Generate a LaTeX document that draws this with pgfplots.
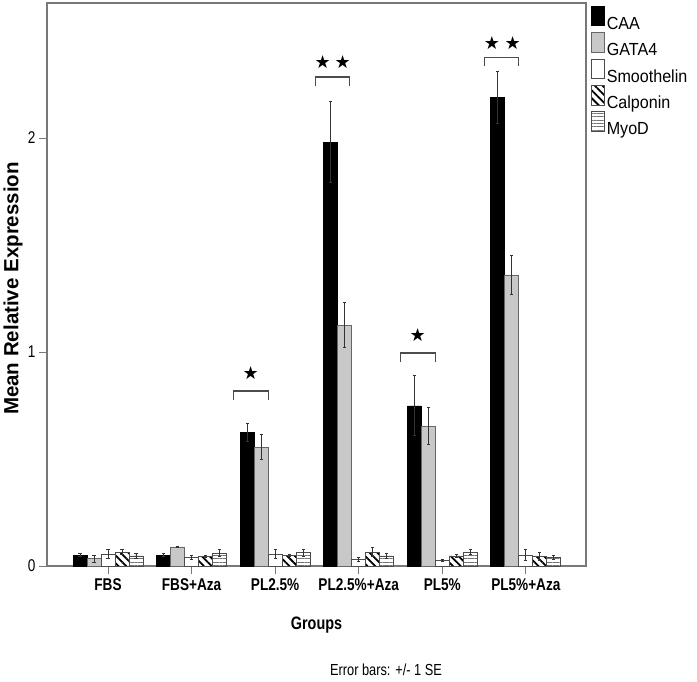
\documentclass[border=0pt]{standalone}
\usepackage{pgfplots}
\pgfplotsset{compat=1.18}
\usepackage{pgfplotstable}
\usepackage{fontspec}
\usetikzlibrary{patterns,patterns.meta}
\setmainfont{Liberation Sans}
\newfontfamily\narrow[FakeStretch=0.8]{Liberation Sans}
\newfontfamily\legfont[FakeStretch=0.92]{Liberation Sans}
\newfontfamily\starfont{DejaVu Sans}

\definecolor{gatagray}{RGB}{200,200,200}
\definecolor{framegray}{RGB}{120,120,120}

% x: group index, y: mean, e: SE
\pgfplotstableread{
x y e
0 0.051 0.006
1 0.051 0.006
2 0.626 0.042
3 1.980 0.190
4 0.748 0.140
5 2.190 0.120
}\caa
\pgfplotstableread{
x y e
0 0.034 0.016
1 0.089 0.004
2 0.556 0.058
3 1.125 0.105
4 0.654 0.085
5 1.360 0.090
}\gata
\pgfplotstableread{
x y e
0 0.055 0.020
1 0.039 0.010
2 0.055 0.020
3 0.031 0.008
4 0.026 0.006
5 0.051 0.025
}\smo
\pgfplotstableread{
x y e
0 0.065 0.012
1 0.045 0.006
2 0.050 0.006
3 0.065 0.020
4 0.047 0.006
5 0.044 0.020
}\cal
\pgfplotstableread{
x y e
0 0.047 0.012
1 0.059 0.016
2 0.062 0.016
3 0.047 0.012
4 0.065 0.012
5 0.039 0.008
}\myo

\begin{document}
\begin{tikzpicture}[x=1pt,y=1pt]
\useasboundingbox (-47pt,-115pt) rectangle (650pt,566pt);
\begin{axis}[
  at={(0pt,0pt)}, anchor=south west,
  scale only axis, width=539pt, height=563pt,
  xmin=-0.73, xmax=5.72, ymin=0, ymax=2.631,
  ybar, bar width=0.1675,
  legend image code/.code={\draw[#1] (0pt,-2pt) rectangle (12.5pt,17.5pt);},
  axis line style={framegray, line width=1.3pt},
  xtick={0,1,2,3,4,5},
  xticklabels={FBS,FBS+Aza,PL2.5\%,PL2.5\%+Aza,PL5\%,PL5\%+Aza},
  ytick={0,1,2},
  /pgf/number format/assume math mode=true,
  tick pos=left, tick align=outside,
  major tick length=8pt,
  tick style={framegray, line width=1pt},
  xticklabel style={font=\narrow\bfseries\fontsize{17}{20}\selectfont, yshift=-1pt},
  yticklabel style={font=\narrow\fontsize{17}{20}\selectfont},
  xlabel={Groups},
  ylabel={Mean Relative Expression},
  every axis x label/.style={at={(axis description cs:0.5,0)}, anchor=center, yshift=-59pt,
    font=\narrow\bfseries\fontsize{18}{20}\selectfont},
  every axis y label/.style={at={([xshift=-34pt,yshift=-4pt]axis description cs:0,0.5)}, anchor=center, rotate=90,
    font=\bfseries\fontsize{20.5}{22}\selectfont},
  legend style={at={(1,1)}, anchor=north west, xshift=5pt, yshift=-3pt, draw=none, fill=none,
    inner sep=0pt, outer sep=0pt, row sep=-1pt,
    font=\legfont\fontsize{17.5}{18}\selectfont, nodes={inner sep=2.5pt}},
  legend cell align=left,
  error bars/y dir=both, error bars/y explicit,
  error bars/error bar style={black!80, line width=0.8pt},
  error bars/error mark options={rotate=90, mark size=1.6pt, line width=1pt, black!80},
  clip=false,
]
\addplot[bar shift=-0.335, fill=black, draw=black, line width=0.8pt]
  table[x=x, y=y, y error=e] {\caa};
\addplot[bar shift=-0.1675, fill=gatagray, draw=black!60, line width=0.8pt]
  table[x=x, y=y, y error=e] {\gata};
\addplot[bar shift=0, fill=white, draw=black!70, line width=0.8pt]
  table[x=x, y=y, y error=e] {\smo};
\addplot[bar shift=0.1675, fill=white, draw=black!70, line width=0.8pt,
  postaction={pattern={Lines[angle=-45, distance=5.5pt, line width=1.8pt]}, pattern color=black}]
  table[x=x, y=y, y error=e] {\cal};
\addplot[bar shift=0.335, fill=white, draw=black!70, line width=0.8pt,
  postaction={pattern={Lines[angle=0, distance=3.4pt, line width=0.8pt]}, pattern color=black!55}]
  table[x=x, y=y, y error=e] {\myo};
\legend{CAA,GATA4,Smoothelin,Calponin,MyoD}

% significance brackets
\draw[black!70, line width=1.2pt] (axis cs:1.497,0.776) |- (axis cs:1.916,0.818) -- (axis cs:1.916,0.776);
\node[font=\starfont\fontsize{18}{18}\selectfont] at (axis cs:1.707,0.90) {★};
\draw[black!70, line width=1.2pt] (axis cs:2.485,2.243) |- (axis cs:2.892,2.285) -- (axis cs:2.892,2.243);
\node[font=\starfont\fontsize{18}{18}\selectfont] at (axis cs:2.569,2.355) {★};
\node[font=\starfont\fontsize{18}{18}\selectfont] at (axis cs:2.809,2.355) {★};
\draw[black!70, line width=1.2pt] (axis cs:3.497,0.953) |- (axis cs:3.916,0.995) -- (axis cs:3.916,0.953);
\node[font=\starfont\fontsize{18}{18}\selectfont] at (axis cs:3.707,1.08) {★};
\draw[black!70, line width=1.2pt] (axis cs:4.509,2.336) |- (axis cs:4.916,2.378) -- (axis cs:4.916,2.336);
\node[font=\starfont\fontsize{18}{18}\selectfont] at (axis cs:4.593,2.444) {★};
\node[font=\starfont\fontsize{18}{18}\selectfont] at (axis cs:4.844,2.444) {★};

\node[font=\narrow\fontsize{16}{18}\selectfont, anchor=center] at ([xshift=69.5pt, yshift=-104pt]axis description cs:0.5,0) {Error bars: +/- 1 SE};
\end{axis}
\end{tikzpicture}
\end{document}
